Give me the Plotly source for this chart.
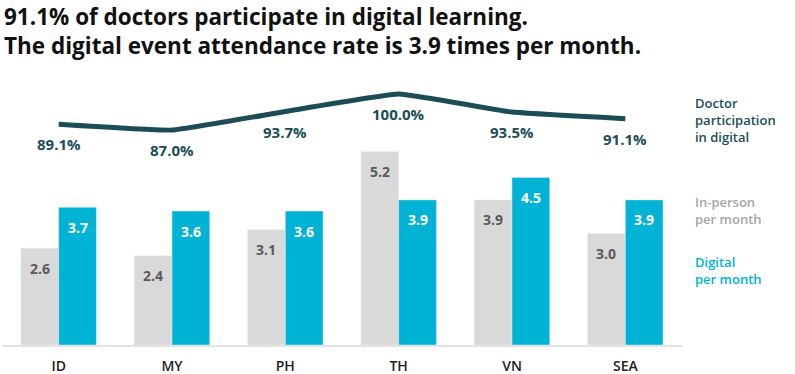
import plotly.graph_objects as go

categories = ["ID", "MY", "PH", "TH", "VN", "SEA"]
in_person = [2.6, 2.4, 3.1, 5.2, 3.9, 3.0]
digital = [3.7, 3.6, 3.6, 3.9, 4.5, 3.9]
participation = [89.1, 87.0, 93.7, 100.0, 93.5, 91.1]

title_lines = ["91.1% of doctors participate in digital learning.",
               "The digital event attendance rate is 3.9 times per month."]
legend_labels = ["Doctor<br>participation<br>in digital", "In-person<br>per month", "Digital<br>per month"]

GRAY = "#d9d9d9"
BLUE = "#00b2d3"
TEAL = "#1c4d57"
FONT = "Open Sans"

BAR_W = 0.333

fig = go.Figure()
fig.add_trace(go.Bar(x=categories, y=in_person, marker_color=GRAY, width=BAR_W,
                     offset=-BAR_W, name="In-person", showlegend=False))
fig.add_trace(go.Bar(x=categories, y=digital, marker_color=BLUE, width=BAR_W,
                     offset=0, name="Digital", showlegend=False))
fig.add_trace(go.Scatter(x=categories, y=participation, yaxis="y2", mode="lines",
                         line=dict(color=TEAL, width=5, shape="spline", smoothing=0.3),
                         showlegend=False))

annotations = []
for c, v in zip(categories, in_person):
    annotations.append(dict(x=c, y=v, xref="x", yref="y", text=f"{v:.1f}", showarrow=False,
                            xshift=-19, yshift=-20,
                            font=dict(family=FONT, size=14, color="#5a5a5a", weight="bold")))
for c, v in zip(categories, digital):
    annotations.append(dict(x=c, y=v, xref="x", yref="y", text=f"{v:.1f}", showarrow=False,
                            xshift=19, yshift=-20,
                            font=dict(family=FONT, size=14, color="white", weight="bold")))
for c, v in zip(categories, participation):
    annotations.append(dict(x=c, y=v, xref="x", yref="y2", text=f"{v:.1f}%", showarrow=False,
                            yshift=-20,
                            font=dict(family=FONT, size=15, color=TEAL, weight="bold")))

annotations.append(dict(x=0, y=1 + 61 / 285, xref="paper", yref="paper", xanchor="left", yanchor="top",
                        text="<br>".join(title_lines), align="left", showarrow=False,
                        font=dict(family=FONT, size=22.5, color="#111111", weight="bold")))

leg_cols = [TEAL, "#a6a6a6", BLUE]
leg_y = [0.789, 0.472, 0.261]
for t, col, yy in zip(legend_labels, leg_cols, leg_y):
    annotations.append(dict(x=1.016, y=yy, xref="paper", yref="paper", xanchor="left", yanchor="middle",
                            text=t, align="left", showarrow=False,
                            font=dict(family=FONT, size=13, color=col, weight=600)))

fig.update_layout(
    width=795, height=374,
    margin=dict(l=2, r=113, t=60, b=29),
    paper_bgcolor="white", plot_bgcolor="white",
    barmode="overlay",
    xaxis=dict(showgrid=False, showline=True, linecolor="#e3e3e3", linewidth=2,
               ticks="", ticklabelstandoff=7, automargin=False,
               tickfont=dict(family=FONT, size=14, color="#222222", weight=600),
               range=[-0.5, 5.5]),
    yaxis=dict(range=[0, 7.66], visible=False, showgrid=False, automargin=False),
    yaxis2=dict(range=[9.4, 112.3], overlaying="y", visible=False, showgrid=False, automargin=False),
    annotations=annotations,
)

fig.write_html("out.html", config={"displayModeBar": False},
               post_script="document.body.style.margin='0';")
